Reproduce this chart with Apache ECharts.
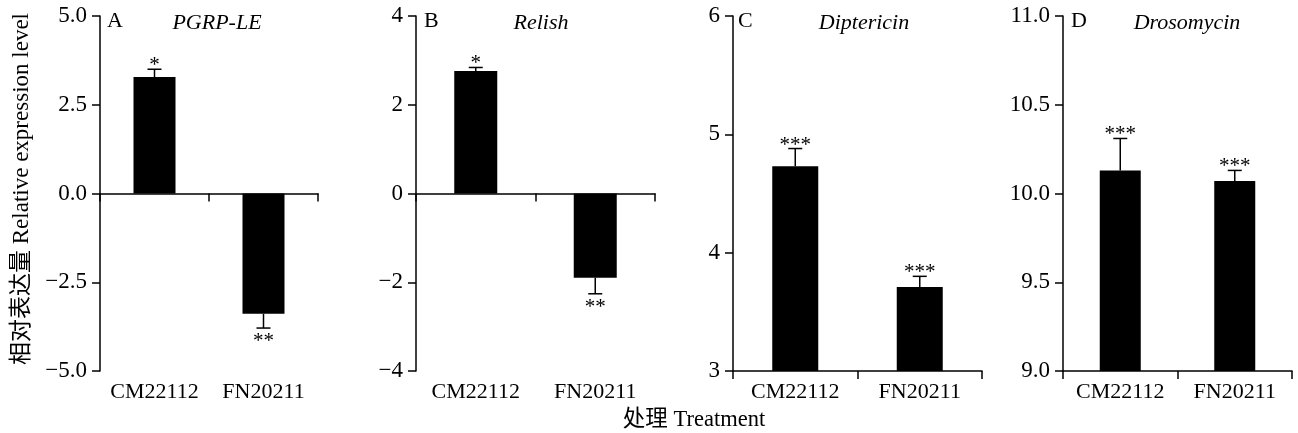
<!DOCTYPE html>
<html>
<head>
<meta charset="utf-8">
<script src="https://cdn.jsdelivr.net/npm/echarts@6/dist/echarts.min.js"></script>
<style>
html,body{margin:0;padding:0;background:#fff;}
#chart{width:1298px;height:433px;}
</style>
</head>
<body>
<div id="chart"></div>
<script>
// ---- data ----
const categories = ['CM22112', 'FN20211'];

const geneA = 'PGRP-LE';
const valuesA = [3.28, -3.39];
const errorsA = [0.22, 0.40];
const sigA = ['*', '**'];
const ticksA = [-5, -2.5, 0, 2.5, 5];

const geneB = 'Relish';
const valuesB = [2.76, -1.90];
const errorsB = [0.08, 0.36];
const sigB = ['*', '**'];
const ticksB = [-4, -2, 0, 2, 4];

const geneC = 'Diptericin';
const valuesC = [4.73, 3.71];
const errorsC = [0.15, 0.09];
const sigC = ['***', '***'];
const ticksC = [3, 4, 5, 6];

const geneD = 'Drosomycin';
const valuesD = [10.13, 10.07];
const errorsD = [0.18, 0.06];
const sigD = ['***', '***'];
const ticksD = [9, 9.5, 10, 10.5, 11];

const panelLetters = ['A', 'B', 'C', 'D'];
const yAxisTitle = '相对表达量 Relative expression level';
const xAxisTitle = '处理 Treatment';

// ---- layout / style ----
const FONT = "'Liberation Serif', 'Times New Roman', 'Noto Sans CJK SC', serif";
const INK = '#000';
const panels = [
  { gene: geneA, values: valuesA, errors: errorsA, sig: sigA, ticks: ticksA, dec: 1, left: 100, width: 218, barWidth: 42, titleX: 217, letterX: 107 },
  { gene: geneB, values: valuesB, errors: errorsB, sig: sigB, ticks: ticksB, dec: 0, left: 416, width: 239, barWidth: 43, titleX: 541, letterX: 424 },
  { gene: geneC, values: valuesC, errors: errorsC, sig: sigC, ticks: ticksC, dec: 0, left: 733, width: 249, barWidth: 46, titleX: 864, letterX: 738 },
  { gene: geneD, values: valuesD, errors: errorsD, sig: sigD, ticks: ticksD, dec: 1, left: 1063, width: 229, barWidth: 41, titleX: 1187, letterX: 1071 }
];
const GRID_TOP = 16, GRID_H = 355;

const grid = [], xAxis = [], yAxis = [], series = [], graphic = [];

panels.forEach((p, i) => {
  const tmin = p.ticks[0], tmax = p.ticks[p.ticks.length - 1];
  const interval = p.ticks[1] - p.ticks[0];
  grid.push({ left: p.left, top: GRID_TOP, width: p.width, height: GRID_H, containLabel: false, outerBoundsMode: 'none' });
  const lineAxisIndex = xAxis.length;
  // axis line + ticks (sits on zero when zero is in range)
  xAxis.push({
    type: 'category', gridIndex: i, data: categories, boundaryGap: true, position: 'bottom',
    axisLine: { show: true, onZero: true, lineStyle: { color: INK, width: 1.5 } },
    axisTick: { show: true, length: 8, lineStyle: { color: INK, width: 1.5 } },
    axisLabel: { show: false },
    splitLine: { show: false }
  });
  // category labels at the bottom of the panel
  xAxis.push({
    type: 'category', gridIndex: i, data: categories, boundaryGap: true, position: 'bottom',
    axisLine: { show: false, onZero: false },
    axisTick: { show: false },
    axisLabel: { show: true, interval: 0, margin: 10, color: INK, fontFamily: FONT, fontSize: 22 },
    splitLine: { show: false }
  });
  yAxis.push({
    type: 'value', gridIndex: i, min: tmin, max: tmax, interval: interval,
    name: i === 0 ? yAxisTitle : '',
    nameLocation: 'middle', nameGap: 67, nameRotate: 90,
    nameTextStyle: { color: INK, fontFamily: FONT, fontSize: 23, padding: [0, 0, 0, 9] },
    axisLine: { show: true, lineStyle: { color: INK, width: 1.5 } },
    axisTick: { show: true, length: 8, lineStyle: { color: INK, width: 1.5 } },
    axisLabel: {
      margin: 13, color: INK, fontFamily: FONT, fontSize: 23, showMinLabel: true, showMaxLabel: true,
      formatter: v => (v < 0 ? '\u2212' : '') + Math.abs(v).toFixed(p.dec)
    },
    splitLine: { show: false }
  });
  series.push({
    type: 'bar', xAxisIndex: lineAxisIndex, yAxisIndex: i, data: p.values,
    barWidth: p.barWidth, itemStyle: { color: INK }, clip: true, silent: true
  });
  series.push({
    type: 'custom', xAxisIndex: lineAxisIndex, yAxisIndex: i, z: 5, silent: true,
    data: p.values.map((v, k) => [k, v, p.errors[k]]),
    renderItem: (params, api) => {
      const xi = api.value(0), v = api.value(1), e = api.value(2);
      const up = v >= 0;
      const end = up ? v + e : v - e;
      const p0 = api.coord([xi, v]);
      const p1 = api.coord([xi, end]);
      const half = 7;
      const lineStyle = { stroke: INK, lineWidth: 1.5 };
      return {
        type: 'group',
        children: [
          { type: 'line', shape: { x1: p0[0], y1: p0[1], x2: p1[0], y2: p1[1] }, style: lineStyle },
          { type: 'line', shape: { x1: p1[0] - half, y1: p1[1], x2: p1[0] + half, y2: p1[1] }, style: lineStyle },
          { type: 'text', x: p1[0], y: up ? p1[1] + 7 : p1[1] + 3,
            style: { text: p.sig[params.dataIndex], textAlign: 'center', textVerticalAlign: up ? 'bottom' : 'top',
                     font: "21px " + FONT, fill: INK } }
        ]
      };
    }
  });
  graphic.push({ type: 'text', x: p.letterX, y: 21, style: { text: panelLetters[i], textAlign: 'left', textVerticalAlign: 'middle', font: "22px " + FONT, fill: INK } });
  graphic.push({ type: 'text', x: p.titleX, y: 23, style: { text: p.gene, textAlign: 'center', textVerticalAlign: 'middle', font: "italic 22px " + FONT, fill: INK } });
});

graphic.push({ type: 'text', x: 694, y: 420, style: { text: xAxisTitle, textAlign: 'center', textVerticalAlign: 'middle', font: "22.5px " + FONT, fill: INK } });

const chart = echarts.init(document.getElementById('chart'), null, { renderer: 'canvas' });
chart.setOption({
  animation: false,
  backgroundColor: '#fff',
  grid, xAxis, yAxis, series, graphic
});
</script>
</body>
</html>
